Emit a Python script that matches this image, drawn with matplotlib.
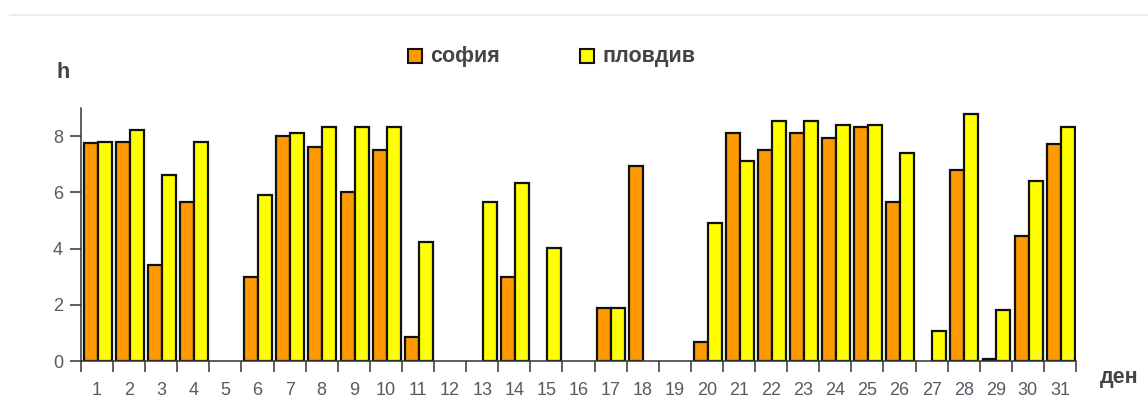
import numpy as np
import matplotlib
matplotlib.use("Agg")
import matplotlib.pyplot as plt
from matplotlib.patches import Rectangle
from matplotlib.lines import Line2D

plt.rcParams['font.family'] = ['Liberation Sans', 'DejaVu Sans']

days = list(range(1, 32))
day_labels = [str(d) for d in days]
sofia = [7.75, 7.8, 3.42, 5.65, None, 3.0, 8.0, 7.6, 6.0, 7.5,
         0.87, None, None, 3.0, None, None, 1.87, 6.92, None, 0.68,
         8.12, 7.52, 8.12, 7.92, 8.32, 5.65, None, 6.8, 0.06, 4.43, 7.72]
plovdiv = [7.8, 8.2, 6.6, 7.8, None, 5.92, 8.12, 8.32, 8.32, 8.32,
           4.23, None, 5.65, 6.32, 4.03, None, 1.87, None, None, 4.9,
           7.12, 8.52, 8.52, 8.4, 8.4, 7.4, 1.08, 8.8, 1.8, 6.4, 8.32]
series_names = ['софия', 'пловдив']
colors = ['#ff9900', '#ffff00']
yticks = [0, 2, 4, 6, 8]

W, H = 1148, 399
fig = plt.figure(figsize=(W / 100, H / 100), dpi=100)
ax = fig.add_axes([81 / W, (H - 361) / H, (1076 - 81) / W, (361 - 108) / H])

offsets = [-0.195, 0.24]
width = 0.435
for vals, off, col in zip([sofia, plovdiv], offsets, colors):
    xs = [d + off for d, v in zip(days, vals) if v is not None]
    hs = [v for v in vals if v is not None]
    ax.bar(xs, hs, width=width, color=col, edgecolor='#111111', linewidth=1.6, zorder=2)

ax.set_xlim(0.5, 31.5)
ax.set_ylim(0, 9)
for s in ['top', 'right']:
    ax.spines[s].set_visible(False)
for s in ['left', 'bottom']:
    ax.spines[s].set_color('#333333')
    ax.spines[s].set_linewidth(1.1)
    ax.spines[s].set_zorder(3)

ax.set_yticks(yticks)
ax.set_yticklabels([str(t) for t in yticks])
ax.tick_params(axis='y', length=8, width=1.1, color='#333333', pad=5,
               labelsize=13, labelcolor='#555b63')

ax.set_xticks(days)
ax.set_xticklabels(day_labels)
ax.tick_params(axis='x', which='major', length=0, pad=15, labelsize=13,
               labelcolor='#555b63')
ax.set_xticks(np.arange(0.5, 32, 1), minor=True)
ax.tick_params(axis='x', which='minor', length=8, width=1.1, color='#333333',
               direction='out')

fig.text(56 / W, 1 - 78 / H, 'h', fontsize=15.5, fontweight='bold', color='#444444',
         ha='left', va='baseline')
fig.text(1100 / W, 1 - 383 / H, 'ден', fontsize=15.5, fontweight='bold', color='#444444',
         ha='left', va='baseline')

# legend
leg_x = [408, 580]
for lx, name, col in zip(leg_x, series_names, colors):
    fig.patches.append(Rectangle((lx / W, 1 - 63 / H), 14 / W, 14 / H,
                                 transform=fig.transFigure, facecolor=col,
                                 edgecolor='#111111', linewidth=1.5))
    fig.text((lx + 22) / W, 1 - 62 / H, name, fontsize=15.5, fontweight='bold',
             color='#444444', ha='left', va='baseline')

# top separator line
fig.add_artist(Line2D([10 / W, 1], [1 - 15 / H, 1 - 15 / H], transform=fig.transFigure,
                      color='#e6ecf2', linewidth=1.2))

fig.savefig('out.png', dpi=100, facecolor='white')
